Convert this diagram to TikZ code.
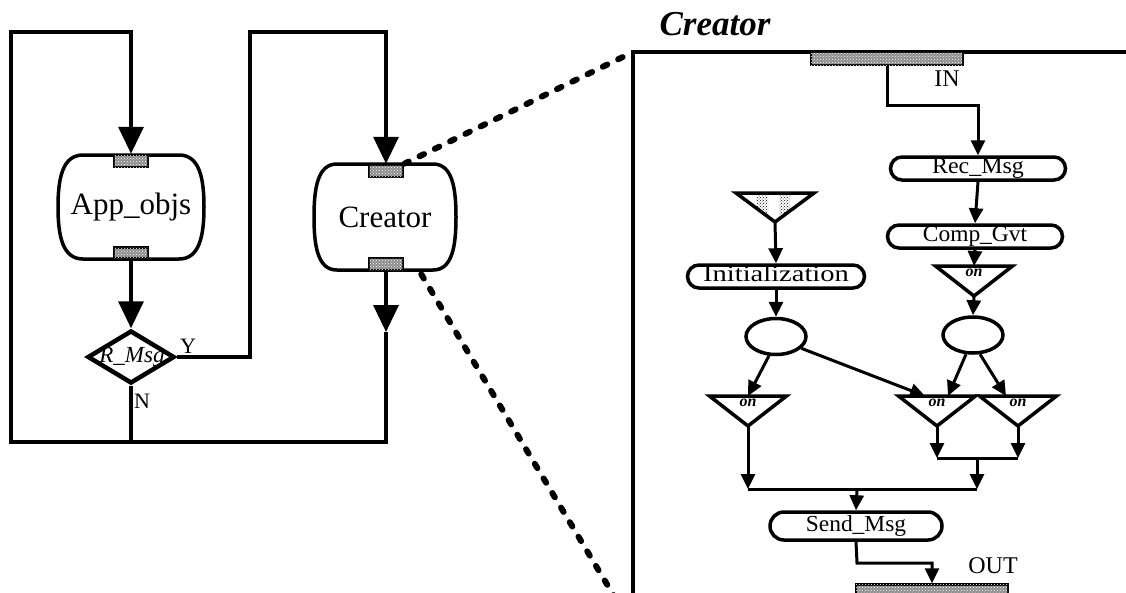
\documentclass[tikz,border=0pt]{standalone}
\usepackage{fontspec}
\setmainfont{Liberation Serif}
\usetikzlibrary{arrows.meta,shapes.geometric,shapes.misc,patterns}

\tikzset{
  bigarrow/.style={-{Triangle[length=27pt,width=25pt]},line width=3.5pt},
  bigline/.style={line width=3.5pt},
  arr/.style={-{Triangle[length=15pt,width=14pt]},line width=3pt},
  wire/.style={line width=3pt},
  port/.style={draw,line width=2.5pt,fill=black!45,inner sep=0pt,
    postaction={pattern=crosshatch dots,pattern color=white}},
  bigtext/.style={font=\fontsize{31}{31}\selectfont},
  stadium/.style={draw,rounded rectangle,line width=3.5pt,inner sep=0pt,
    font=\fontsize{23}{23}\selectfont,text height=10pt,text depth=0pt},
  oval/.style={draw,ellipse,line width=3.5pt,inner sep=0pt,
    minimum width=60pt,minimum height=36pt},
  zoomdots/.style={line width=6pt,line cap=round,dash pattern=on 5pt off 12pt},
  ontri/.pic={
    \node[font=\bfseries\itshape\fontsize{16}{16}\selectfont] (-txt) at (0,-8) {on};
    \draw[line width=3.5pt] (-38.5,-15) -- (38.5,-15) -- (0,15) -- cycle;
    \coordinate (-top) at (0,-15);
    \coordinate (-apex) at (0,15);
  }
}

\begin{document}
\begin{tikzpicture}[x=1pt,y=-1pt]
  \useasboundingbox (0,0) rectangle (1126,592);

  \node[bigtext] (app) at (131,207) {App\_objs};
  \draw[bigline,shift={(app.center)}] (-48,-52) -- (48,-52)
    .. controls (68,-52) and (73,-30) .. (73,0)
    .. controls (73,30) and (68,52) .. (48,52) -- (-48,52)
    .. controls (-68,52) and (-73,30) .. (-73,0)
    .. controls (-73,-30) and (-68,-52) .. (-48,-52) -- cycle;
  \node[port,minimum width=34pt,minimum height=12pt] (appin) at (131,161) {};
  \node[port,minimum width=34pt,minimum height=11pt] (appout) at (131,253) {};

  \node[bigtext] (cr) at (385,217) {Creator};
  \draw[bigline,shift={(cr.center)}] (-48,-53) -- (48,-53)
    .. controls (67,-53) and (71,-30) .. (71,0)
    .. controls (71,30) and (67,53) .. (48,53) -- (-48,53)
    .. controls (-67,53) and (-71,30) .. (-71,0)
    .. controls (-71,-30) and (-67,-53) .. (-48,-53) -- cycle;
  \node[port,minimum width=34pt,minimum height=12pt] (crin) at (386,171) {};
  \node[port,minimum width=34pt,minimum height=12pt] (crout) at (386,264) {};

  \node[font=\itshape\fontsize{23}{23}\selectfont] (rmsgtxt) at (132,357) {R\_Msg};
  \node[draw,diamond,line width=4.5pt,inner sep=0pt,minimum width=87pt,minimum height=53pt] (rmsg) at (131,357) {};
  \node[font=\fontsize{22}{22}\selectfont] (ylbl) at (188,346) {Y};
  \node[font=\fontsize{22}{22}\selectfont] (nlbl) at (142,401) {N};

  \coordinate (crmid) at (386,332);
  \coordinate (crbot) at (386,442);
  \coordinate (lbot) at (11,442);
  \coordinate (ltop) at (11,32);
  \coordinate (apptop) at (131,32);
  \coordinate (ymid) at (250,357);
  \coordinate (ytop) at (250,32);
  \coordinate (crtop) at (386,32);

  \draw[bigarrow] (appout.south) -- (rmsg.north);
  \draw[bigarrow] (crout.south) -- (crmid);
  \draw[bigarrow] (crmid) -- (crbot) -- (lbot) -- (ltop) -- (apptop) -- (appin.north);
  \draw[bigarrow] (rmsg.east) -- (ymid) -- (ytop) -- (crtop) -- (crin.north);
  \draw[bigline] (rmsg.south) -- (rmsg.south |- crbot);

  \coordinate (frametl) at (633,52);
  \coordinate (dotb) at (614,596);
  \draw[zoomdots] (crin.north east) -- (frametl);
  \draw[zoomdots] ([xshift=17pt,yshift=-3pt]crout.south east) -- (dotb);

  \draw[line width=3.5pt] (633,600) -- (frametl) -- (1130,52);
  \node[font=\bfseries\itshape\fontsize{35}{35}\selectfont] (title) at (715,24) {Creator};

  \node[port,minimum width=152pt,minimum height=13pt] (inport) at (887,58.5) {};
  \node[font=\fontsize{24}{24}\selectfont] (inlbl) at (947,79) {IN};
  \node[port,minimum width=152pt,minimum height=13pt] (outport) at (932,591) {};
  \node[font=\fontsize{24}{24}\selectfont] (outlbl) at (993,566) {OUT};

  \node[stadium,minimum width=175pt,minimum height=23pt] (recmsg) at (978,168.5) {\scalebox{1.04}[1]{Rec\_Msg}};
  \node[stadium,minimum width=175pt,minimum height=23pt] (compgvt) at (975,236.5) {\scalebox{1.02}[1]{Comp\_Gvt}};
  \node[stadium,minimum width=177pt,minimum height=23pt] (init) at (776,276.5) {\scalebox{1.24}[1]{Initialization}};
  \node[stadium,minimum width=172pt,minimum height=28pt] (sendmsg) at (856,526) {\scalebox{1.02}[1]{Send\_Msg}};

  \coordinate (src) at (775,222);
  \begin{scope}
    \clip (736,193) -- (814,193) -- (src) -- cycle;
    \fill[pattern=crosshatch dots,pattern color=black] (757,193) rectangle (768,215);
    \fill[pattern=crosshatch dots,pattern color=black] (779,193) rectangle (790,215);
  \end{scope}
  \draw[line width=3.5pt] (736,193) -- (814,193) -- (src) -- cycle;

  \node[oval] (lell) at (776,336.5) {};
  \node[oval] (rell) at (973,335) {};

  \pic (onr) at (974,281) {ontri};
  \pic (onl) at (748,411) {ontri};
  \pic (onm) at (937,411) {ontri};
  \pic (onrr) at (1018,411) {ontri};

  \coordinate (inb1) at (887,105);
  \coordinate (inb2) at (978,105);
  \draw[arr] (inport.south) -- (inb1) -- (inb2) -- (recmsg.north);
  \draw[arr] (recmsg.south) -- (compgvt.north);
  \draw[arr] (compgvt.south) -- (onr-top);
  \draw[arr] (onr-apex) -- (rell.north);
  \draw[arr] (src) -- (init.north);
  \draw[arr] (init.south) -- (lell.north);

  \draw[arr] (lell.250) -- (onl-top);
  \draw[arr] (lell.-25) -- ([xshift=-12pt]onm-top);
  \draw[arr] (rell.250) -- ([xshift=11pt]onm-top);
  \draw[arr] (rell.290) -- ([xshift=-12pt]onrr-top);

  \coordinate (mdn) at (937,458);
  \coordinate (rrdn) at (1018,458);
  \coordinate (rjoin) at (977,458);
  \coordinate (rdn) at (977,489);
  \coordinate (ldn) at (748,489);
  \coordinate (sjoin) at (857,489);
  \draw[arr] (onm-apex) -- (mdn);
  \draw[arr] (onrr-apex) -- (rrdn);
  \draw[wire] (mdn) -- (rrdn);
  \draw[arr] (rjoin) -- (rdn);
  \draw[arr] (onl-apex) -- (ldn);
  \draw[wire] (ldn) -- (rdn);
  \draw[arr] (sjoin) -- (sendmsg.north);

  \coordinate (outb1) at (857,563);
  \coordinate (outb2) at (932,563);
  \draw[arr] (sendmsg.south) -- (outb1) -- (outb2) -- (outport.north);
\end{tikzpicture}
\end{document}
